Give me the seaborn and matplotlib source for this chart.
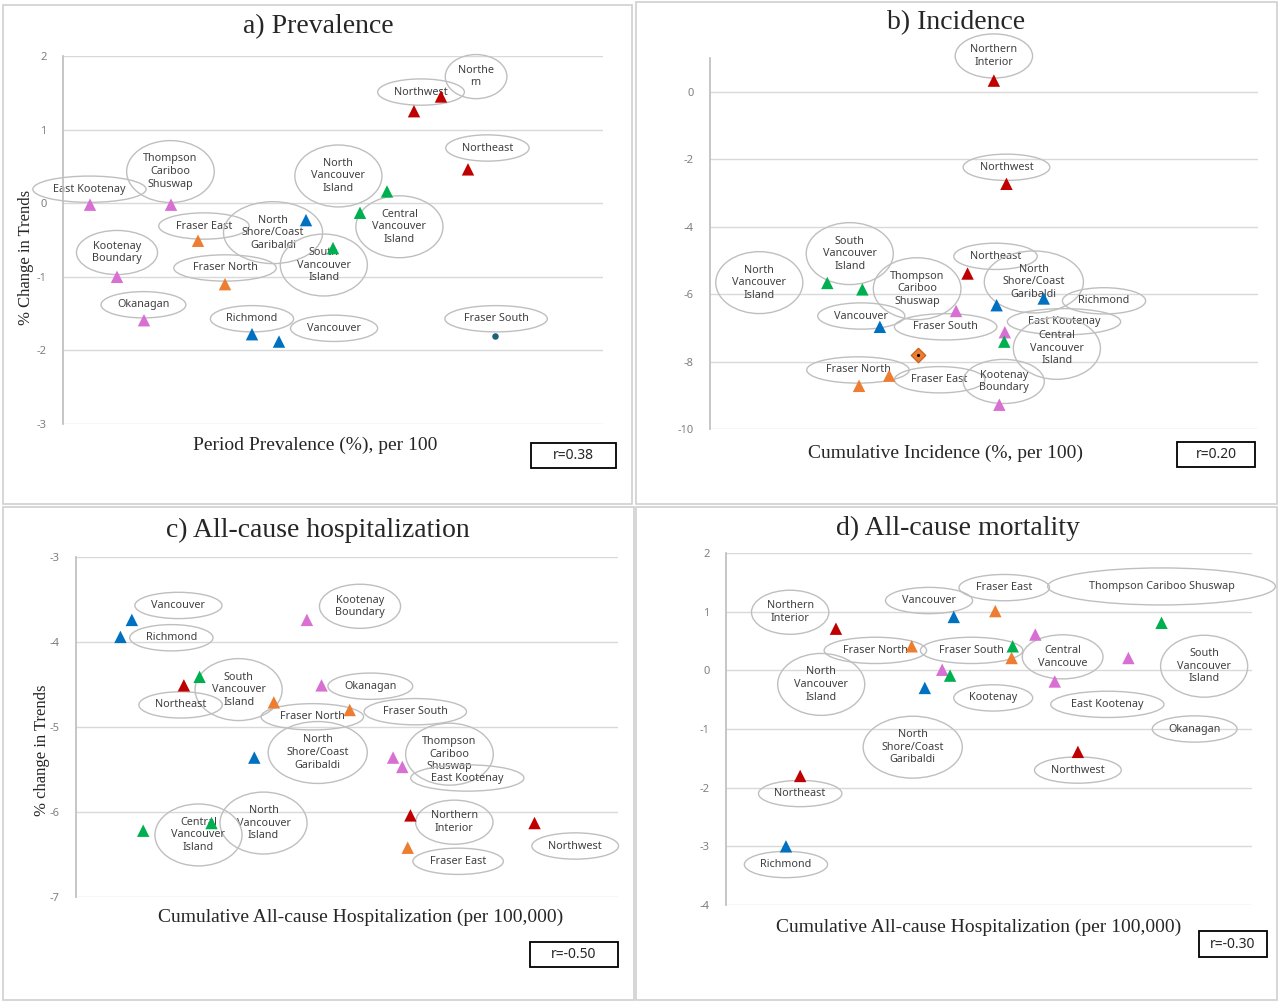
import numpy as np
import pandas as pd
import matplotlib.pyplot as plt
import seaborn as sns
from matplotlib.patches import Rectangle

# Regiones (Health Service Delivery Areas) y su autoridad sanitaria
regions = ['East Kootenay', 'Kootenay Boundary', 'Okanagan', 'Thompson Cariboo Shuswap',
           'Fraser East', 'Fraser North', 'Fraser South',
           'Richmond', 'Vancouver', 'North Shore/Coast Garibaldi',
           'South Vancouver Island', 'Central Vancouver Island', 'North Vancouver Island',
           'Northwest', 'Northern Interior', 'Northeast']
authority = ['Interior'] * 4 + ['Fraser'] * 3 + ['Vancouver Coastal'] * 3 + ['Island'] * 3 + ['Northern'] * 3

# a) Prevalence (x axis has no scale in the source -> relative 0-100)
prev_x = [5, 10, 15, 20, 25, 30, 80, 35, 40, 45, 50, 55, 60, 65, 70, 75]
prev_y = [-0.02, -1.00, -1.59, -0.02, -0.51, -1.10, -1.80, -1.78, -1.88, -0.23,
          -0.61, -0.13, 0.16, 1.25, 1.45, 0.46]

# b) Incidence (Okanagan not shown)
inc_x = [53.8, 52.8, np.nan, 44.9, 32.7, 27.2, 38.0, 60.9, 31.0, 52.3,
         27.8, 53.7, 21.4, 54.1, 51.8, 47.0]
inc_y = [-7.13, -9.28, np.nan, -6.50, -8.42, -8.72, -7.80, -6.13, -6.97, -6.33,
         -5.86, -7.41, -5.67, -2.73, 0.33, -5.39]

# c) All-cause hospitalization
hosp_x = [60.2, 42.6, 45.3, 58.5, 61.2, 36.5, 50.5, 8.2, 10.3, 32.9,
          22.8, 12.4, 25.0, 84.6, 61.7, 19.9]
hosp_y = [-5.47, -3.74, -4.51, -5.36, -6.42, -4.71, -4.80, -3.94, -3.74, -5.36,
          -4.41, -6.22, -6.13, -6.13, -6.04, -4.51]

# d) All-cause mortality
mort_x = [62.5, 41.1, 76.5, 58.8, 51.2, 35.3, 54.3, 11.4, 43.3, 37.8,
          82.8, 54.5, 42.6, 66.9, 20.9, 14.1]
mort_y = [-0.19, 0.01, 0.21, 0.61, 1.01, 0.41, 0.21, -3.00, 0.91, -0.30,
          0.81, 0.41, -0.09, -1.39, 0.71, -1.80]

r_values = ['r=0.38', 'r=0.20', 'r=-0.50', 'r=-0.30']

palette = {'Interior': '#D86FD3', 'Fraser': '#ED7D31', 'Vancouver Coastal': '#0070C0',
           'Island': '#00B050', 'Northern': '#C00000'}

# posiciones de las etiquetas (elipses) en coordenadas de datos
labels_a = [('Northe\nrn', 76.5, 1.72), ('Northwest', 66.3, 1.51), ('Northeast', 78.6, 0.75),
            ('Thompson\nCariboo\nShuswap', 19.9, 0.43), ('East Kootenay', 4.9, 0.19),
            ('North\nVancouver\nIsland', 51.0, 0.37), ('Central\nVancouver\nIsland', 62.3, -0.32),
            ('Fraser East', 26.1, -0.31), ('North\nShore/Coast\nGaribaldi', 38.9, -0.40),
            ('Kootenay\nBoundary', 10.0, -0.67), ('South\nVancouver\nIsland', 48.3, -0.84),
            ('Fraser North', 30.0, -0.88), ('Okanagan', 14.9, -1.38), ('Richmond', 35.0, -1.57),
            ('Vancouver', 50.2, -1.70), ('Fraser South', 80.2, -1.57)]
labels_b = [('Northern\nInterior', 51.8, 1.06), ('Northwest', 54.1, -2.24),
            ('South\nVancouver\nIsland', 25.5, -4.80), ('North\nVancouver\nIsland', 9.0, -5.66),
            ('Northeast', 52.1, -4.88), ('Thompson\nCariboo\nShuswap', 37.8, -5.84),
            ('North\nShore/Coast\nGaribaldi', 59.1, -5.64), ('Richmond', 71.9, -6.20),
            ('Vancouver', 27.6, -6.65), ('Fraser South', 43.0, -6.97),
            ('East Kootenay', 64.6, -6.82), ('Central\nVancouver\nIsland', 63.3, -7.61),
            ('Fraser North', 27.0, -8.25), ('Fraser East', 41.9, -8.54),
            ('Kootenay\nBoundary', 53.6, -8.59)]
labels_c = [('Vancouver', 18.9, -3.57), ('Richmond', 17.6, -3.95),
            ('Kootenay\nBoundary', 52.4, -3.58), ('South\nVancouver\nIsland', 30.0, -4.56),
            ('Northeast', 19.3, -4.74), ('Okanagan', 54.3, -4.52), ('Fraser North', 43.6, -4.88),
            ('Fraser South', 62.6, -4.82), ('North\nShore/Coast\nGaribaldi', 44.6, -5.30),
            ('Thompson\nCariboo\nShuswap', 68.9, -5.32), ('East Kootenay', 72.2, -5.60),
            ('North\nVancouver\nIsland', 34.6, -6.13), ('Central\nVancouver\nIsland', 22.6, -6.27),
            ('Northern\nInterior', 69.8, -6.12), ('Northwest', 92.1, -6.40),
            ('Fraser East', 70.5, -6.58)]
labels_d = [('Northern\nInterior', 12.2, 0.99), ('Vancouver', 38.6, 1.19), ('Fraser East', 52.9, 1.41),
            ('Thompson Cariboo Shuswap', 82.8, 1.43, 0.7), ('Fraser North', 28.4, 0.34),
            ('Fraser South', 46.7, 0.34), ('Central\nVancouve', 64.0, 0.23),
            ('South\nVancouver\nIsland', 90.9, 0.07), ('North\nVancouver\nIsland', 18.1, -0.24),
            ('Kootenay', 50.8, -0.47), ('East Kootenay', 72.5, -0.58), ('Okanagan', 89.1, -1.0),
            ('North\nShore/Coast\nGaribaldi', 35.5, -1.31), ('Northwest', 66.9, -1.70),
            ('Northeast', 14.1, -2.10), ('Richmond', 11.4, -3.31)]

W, H = 1280, 1005
SERIF = 'Liberation Serif'
SANS = 'Noto Sans'


def fx(px):
    return px / W


def fy(py):
    return 1 - py / H


def draw_panel(fig, box, x, y, labels, ylim, yticks, special):
    left, top, right, bottom = box
    ax = fig.add_axes([fx(left), fy(bottom), (right - left) / W, (bottom - top) / H])
    df = pd.DataFrame({'region': regions, 'x': x, 'y': y, 'authority': authority}).dropna()

    tri = df if special == 'tri' else df[df.region != 'Fraser South']
    sns.scatterplot(data=tri, x='x', y='y', hue='authority', palette=palette, marker='^',
                    s=80, linewidth=0, legend=False, ax=ax, zorder=3)
    fs = df[df.region == 'Fraser South']
    if special == 'dot':
        sns.scatterplot(data=fs, x='x', y='y', color='#1F5F7A', marker='o', s=22,
                        linewidth=0, legend=False, ax=ax, zorder=3)
    elif special == 'diamond':
        sns.scatterplot(data=fs, x='x', y='y', color='#ED7D31', marker='D', s=55,
                        edgecolor='#C55A11', linewidth=0.8, legend=False, ax=ax, zorder=3)
        sns.scatterplot(data=fs, x='x', y='y', color='black', marker='o', s=5,
                        linewidth=0, legend=False, ax=ax, zorder=4)

    for lab in labels:
        pad = lab[3] if len(lab) > 3 else 0.35
        ax.text(lab[1], lab[2], lab[0], ha='center', va='center', fontsize=7.8,
                color='#404040', family=SANS, linespacing=1.2, clip_on=False, zorder=2,
                bbox=dict(boxstyle=f'ellipse,pad={pad}', fc='none', ec='#BFBFBF', lw=1))

    ax.set_xlim(0, 100)
    ax.set_ylim(*ylim)
    ax.set_yticks(yticks)
    ax.set_xticks([])
    ax.set_xlabel('')
    ax.set_ylabel('')
    ax.grid(axis='y', color='#D9D9D9', lw=1)
    ax.grid(axis='x', visible=False)
    for side in ['top', 'right', 'bottom']:
        ax.spines[side].set_visible(False)
    ax.spines['left'].set_color('#BFBFBF')
    ax.tick_params(axis='y', length=0, pad=12, labelsize=8, labelcolor='#7F7F7F')
    ax.set_facecolor('none')
    return ax


def add_text(fig, px, py, s, **kw):
    fig.text(fx(px), fy(py), s, ha='center', va='center', **kw)


def r_box(fig, x0, y0, x1, y1, s):
    fig.add_artist(Rectangle((fx(x0), fy(y1)), (x1 - x0) / W, (y1 - y0) / H,
                             transform=fig.transFigure, fill=False, ec='black', lw=1.3))
    add_text(fig, (x0 + x1) / 2, (y0 + y1) / 2, s, fontsize=10, family=SANS, color='#262626')


def main():
    sns.set_theme(style='white')
    plt.rcParams['font.family'] = [SANS, 'DejaVu Sans']
    plt.rcParams['axes.unicode_minus'] = False

    fig = plt.figure(figsize=(12.8, 10.05), dpi=100)

    # marcos grises de cada panel
    for x0, y0, x1, y1 in [(3, 5, 632, 504), (636, 2, 1277, 504), (3, 507, 634, 1000), (636, 507, 1277, 1000)]:
        fig.add_artist(Rectangle((fx(x0), fy(y1)), (x1 - x0) / W, (y1 - y0) / H,
                                 transform=fig.transFigure, fill=False, ec='#D0D0D0', lw=1.2))

    draw_panel(fig, (63, 56, 603, 424), prev_x, prev_y, labels_a, (-3, 2), [-3, -2, -1, 0, 1, 2], 'dot')
    draw_panel(fig, (710, 58, 1258, 429), inc_x, inc_y, labels_b, (-10, 1), [-10, -8, -6, -4, -2, 0], 'diamond')
    draw_panel(fig, (76, 557, 618, 897), hosp_x, hosp_y, labels_c, (-7, -3), [-7, -6, -5, -4, -3], 'tri')
    draw_panel(fig, (726, 553, 1252, 905), mort_x, mort_y, labels_d, (-4, 2), [-4, -3, -2, -1, 0, 1, 2], 'tri')

    # títulos
    add_text(fig, 318, 27, 'a) Prevalence', fontsize=20, family=SERIF)
    add_text(fig, 956, 23, 'b) Incidence', fontsize=20, family=SERIF)
    add_text(fig, 318, 530, 'c) All-cause hospitalization', fontsize=20, family=SERIF)
    add_text(fig, 958, 528, 'd) All-cause mortality', fontsize=20, family=SERIF)

    # etiquetas de ejes
    add_text(fig, 315, 445, 'Period Prevalence (%), per 100', fontsize=14, family=SERIF)
    add_text(fig, 945, 453, 'Cumulative Incidence (%, per 100)', fontsize=14, family=SERIF)
    add_text(fig, 361, 917, 'Cumulative All-cause Hospitalization (per 100,000)', fontsize=14, family=SERIF)
    add_text(fig, 979, 927, 'Cumulative All-cause Hospitalization (per 100,000)', fontsize=14, family=SERIF)
    add_text(fig, 26, 257, '% Change in Trends', fontsize=12, family=SERIF, rotation=90)
    add_text(fig, 42, 750, '% change in Trends', fontsize=12, family=SERIF, rotation=90)

    # cajas con el coeficiente de correlación
    r_box(fig, 531, 443, 616, 468, r_values[0])
    r_box(fig, 1177, 442, 1255, 467, r_values[1])
    r_box(fig, 530, 942, 618, 967, r_values[2])
    r_box(fig, 1199, 931, 1267, 957, r_values[3])

    fig.savefig('out.png', dpi=100)
    plt.close(fig)


if __name__ == "__main__":
    main()
